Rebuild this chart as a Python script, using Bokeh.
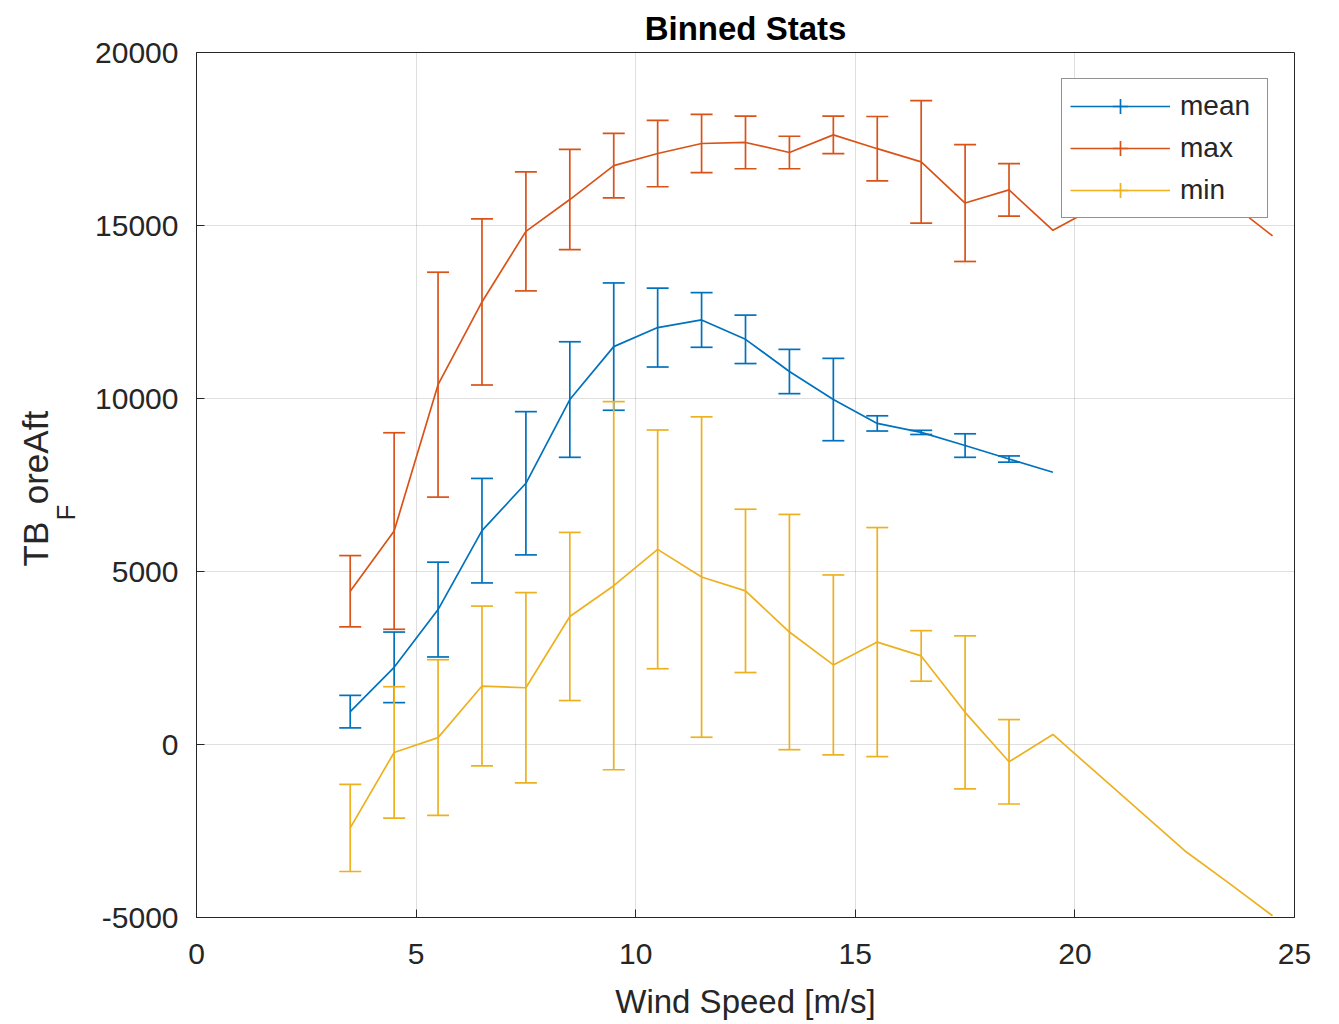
import numpy as np
from bokeh.plotting import figure
from bokeh.models import (Range1d, FixedTicker, Whisker, TeeHead, ColumnDataSource,
                          Legend, LegendItem, Title, BasicTickFormatter)
from bokeh.embed import file_html
from bokeh.resources import INLINE

# ---------------- data ----------------
wind_bins = [3.5, 4.5, 5.5, 6.5, 7.5, 8.5, 9.5, 10.5, 11.5, 12.5, 13.5,
             14.5, 15.5, 16.5, 17.5, 18.5, 19.5, 20.5, 21.5, 22.5, 23.5, 24.5]

mean_vals = [950, 2230, 3900, 6180, 7550, 9970, 11500, 12050, 12270, 11710,
             10780, 9970, 9280, 9020, 8640, 8250, 7870]
mean_err = [470, 1020, 1370, 1510, 2070, 1670, 1840, 1140, 790, 700,
            640, 1190, 220, 60, 340, 90, None]

max_vals = [4430, 6170, 10400, 12790, 14830, 15750, 16730, 17080, 17370, 17400,
            17110, 17620, 17220, 16840, 15650, 16030, 14860, 15550, 15800, 15950,
            15690, 14700]
max_err = [1030, 2840, 3250, 2400, 1720, 1450, 930, 960, 840, 760,
           470, 540, 930, 1770, 1690, 760, None, None, None, None, None, None]

min_vals = [-2410, -230, 200, 1690, 1640, 3700, 4590, 5640, 4840, 4440,
            3250, 2300, 2960, 2560, 930, -500, 290, -830, -1950, -3070,
            -4000, -4950]
min_err = [1260, 1900, 2250, 2310, 2750, 2430, 5320, 3450, 4630, 2360,
           3400, 2600, 3310, 730, 2210, 1220, None, None, None, None, None, None]

series_names = ["mean", "max", "min"]
series_colors = ["#0072BD", "#D95319", "#EDB120"]

x_ticks = [0, 5, 10, 15, 20, 25]
y_ticks = [-5000, 0, 5000, 10000, 15000, 20000]

# ---------------- figure ----------------
W, H = 1338, 1024
FL, FT, FR, FB = 196, 52, 1294, 917   # frame box in canvas px

FONT = "Liberation Sans"
AX = "#262626"

p = figure(width=W, height=H, output_backend="svg", toolbar_location=None,
           x_range=Range1d(0, 25), y_range=Range1d(-5000, 20000),
           min_border_left=FL, min_border_top=FT,
           min_border_right=W - FR, min_border_bottom=H - FB)
p.background_fill_color = "white"
p.border_fill_color = "white"
p.outline_line_color = AX
p.outline_line_width = 1

p.title.text = "Binned Stats"
p.title.align = "center"
p.title.text_font = FONT
p.title.text_font_size = "33px"
p.title.text_font_style = "bold"
p.title.text_color = "black"
p.title.standoff = 11
p.title.offset = 0

for ax in (p.xaxis[0], p.yaxis[0]):
    ax.major_label_text_font = FONT
    ax.major_label_text_font_size = "30px"
    ax.major_label_text_color = AX
    ax.axis_line_color = AX
    ax.major_tick_line_color = AX
    ax.major_tick_in = 8
    ax.major_tick_out = 0
    ax.minor_tick_line_color = None
    ax.axis_label_text_font = FONT
    ax.axis_label_text_font_size = "33px"
    ax.axis_label_text_font_style = "normal"
    ax.axis_label_text_color = AX
    ax.formatter = BasicTickFormatter(use_scientific=False)

p.xaxis.ticker = FixedTicker(ticks=x_ticks)
p.yaxis.ticker = FixedTicker(ticks=y_ticks)
p.yaxis.major_label_overrides = {-5000: "-5000"}
p.xaxis.axis_label = "Wind Speed [m/s]"
p.xaxis.major_label_standoff = 26
p.xaxis.axis_label_standoff = 16
p.yaxis.major_label_standoff = 18
p.yaxis.axis_label = None

p.grid.grid_line_color = AX
p.grid.grid_line_alpha = 0.15
p.grid.grid_line_width = 1
p.xgrid.ticker = FixedTicker(ticks=x_ticks)
p.ygrid.ticker = FixedTicker(ticks=y_ticks)

# ---------------- series ----------------
all_vals = [mean_vals, max_vals, min_vals]
all_errs = [mean_err, max_err, min_err]
LW = 1.7
legend_items = []
for name, col, vals, errs in zip(series_names, series_colors, all_vals, all_errs):
    xs = wind_bins[:len(vals)]
    lr = p.line(xs, vals, line_color=col, line_width=LW)
    bx, lo, hi = [], [], []
    for xv, v, e in zip(xs, vals, errs):
        if e is not None:
            bx.append(xv); lo.append(v - e); hi.append(v + e)
    src = ColumnDataSource(dict(base=bx, lower=lo, upper=hi))
    wh = Whisker(source=src, base="base", lower="lower", upper="upper",
                 dimension="height", line_color=col, line_width=LW,
                 upper_head=TeeHead(size=22, line_color=col, line_width=LW),
                 lower_head=TeeHead(size=22, line_color=col, line_width=LW))
    p.add_layout(wh)
    # legend-only glyph for the error-bar icon (no visible data)
    mr = p.scatter(x=[np.nan], y=[np.nan], marker="cross", size=30,
                   line_color=col, line_width=LW)
    legend_items.append(LegendItem(label=name, renderers=[lr, mr]))

legend = Legend(items=legend_items, location="top_right", margin=26,
                padding=8, spacing=4, glyph_width=100, glyph_height=38,
                label_height=38, label_width=79, label_standoff=10,
                label_text_font=FONT, label_text_font_size="28px",
                label_text_color=AX, border_line_color=AX, border_line_width=1,
                background_fill_color="white", background_fill_alpha=1.0)
p.add_layout(legend)

# ---------------- y-axis label "TB_ForeAft" (subscript F) ----------------
sub_title = Title(text="F", align="left", offset=397, standoff=24,
                  text_font=FONT, text_font_size="26px", text_font_style="normal",
                  text_color=AX, vertical_align="bottom")
p.add_layout(sub_title, "left")
main_title = Title(text="TB\u2002oreAft", align="left", offset=351, standoff=-36,
                   text_font=FONT, text_font_size="35px", text_font_style="normal",
                   text_color=AX, vertical_align="bottom")
p.add_layout(main_title, "left")

open("out.html", "w").write(file_html(p, INLINE))
